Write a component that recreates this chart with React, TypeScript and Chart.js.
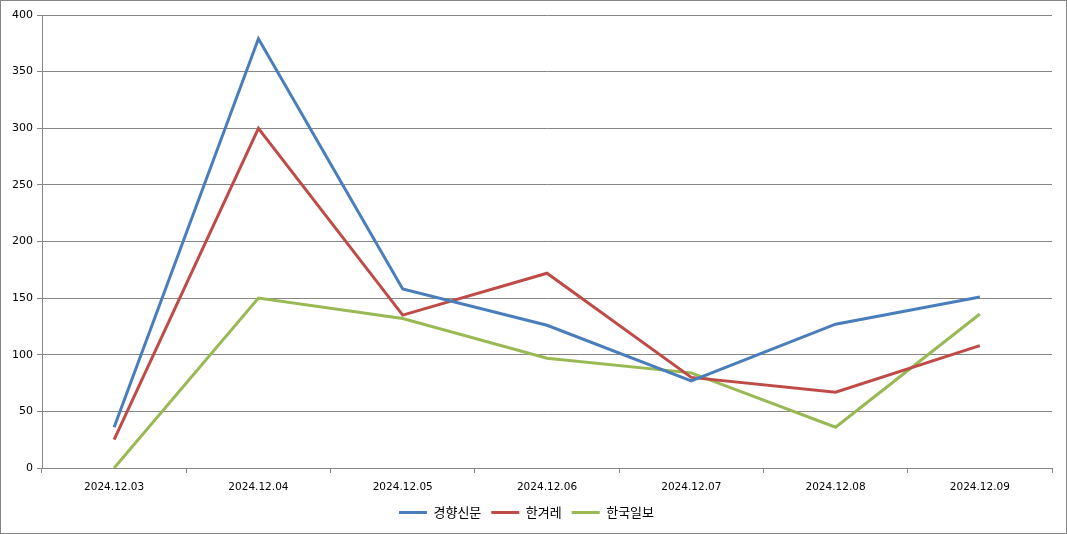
import { useEffect, useRef } from "react";
import { Chart, registerables } from "chart.js";

Chart.register(...registerables);

const dates = ["2024.12.03", "2024.12.04", "2024.12.05", "2024.12.06", "2024.12.07", "2024.12.08", "2024.12.09"];
const kyunghyang = [36, 379, 158, 126, 77, 127, 151];
const hankyoreh = [25, 300, 135, 172, 80, 67, 108];
const hankook = [0, 150, 132, 97, 84, 36, 136];

const GRID = "#868686";

export default function App() {
  const ref = useRef<HTMLCanvasElement>(null);
  useEffect(() => {
    const line = (label: string, data: number[], color: string) => ({
      label,
      data,
      borderColor: color,
      backgroundColor: color,
      borderWidth: 3,
      pointRadius: 0,
      tension: 0,
    });
    const chart = new Chart(ref.current!, {
      type: "line",
      data: {
        labels: dates,
        datasets: [
          line("경향신문", kyunghyang, "#4A7EBB"),
          line("한겨레", hankyoreh, "#BE4B48"),
          line("한국일보", hankook, "#98B954"),
        ],
      },
      options: {
        responsive: false,
        animation: false,
        devicePixelRatio: 1,
        layout: { padding: { top: 14, right: 14, bottom: 4, left: 0 } },
        scales: {
          x: {
            offset: true,
            grid: { offset: true, drawOnChartArea: false, drawTicks: true, tickLength: 5, color: GRID },
            border: { color: GRID },
            ticks: { color: "#000", padding: 8, maxRotation: 0, font: { family: "DejaVu Sans", size: 10.5 } },
            afterFit: (s: any) => { s.height = 28; },
          },
          y: {
            min: 0,
            max: 400,
            ticks: { stepSize: 50, color: "#000", padding: 4, font: { family: "DejaVu Sans", size: 11 } },
            grid: { color: GRID, tickLength: 5 },
            border: { color: GRID },
            afterFit: (s: any) => { s.width = 41; },
          },
        },
        plugins: {
          tooltip: { enabled: false },
          legend: {
            position: "bottom",
            labels: {
              usePointStyle: true,
              pointStyle: "line",
              pointStyleWidth: 28,
              padding: 10,
              color: "#000",
              font: { family: "Noto Sans CJK KR", size: 13 },
            },
          },
        },
      },
    });
    return () => chart.destroy();
  }, []);
  return (
    <div style={{ position: "absolute", left: 0, top: 0, width: 1067, height: 534, boxSizing: "border-box", border: "1px solid #868686", background: "#fff" }}>
      <canvas ref={ref} width={1065} height={532} />
    </div>
  );
}
